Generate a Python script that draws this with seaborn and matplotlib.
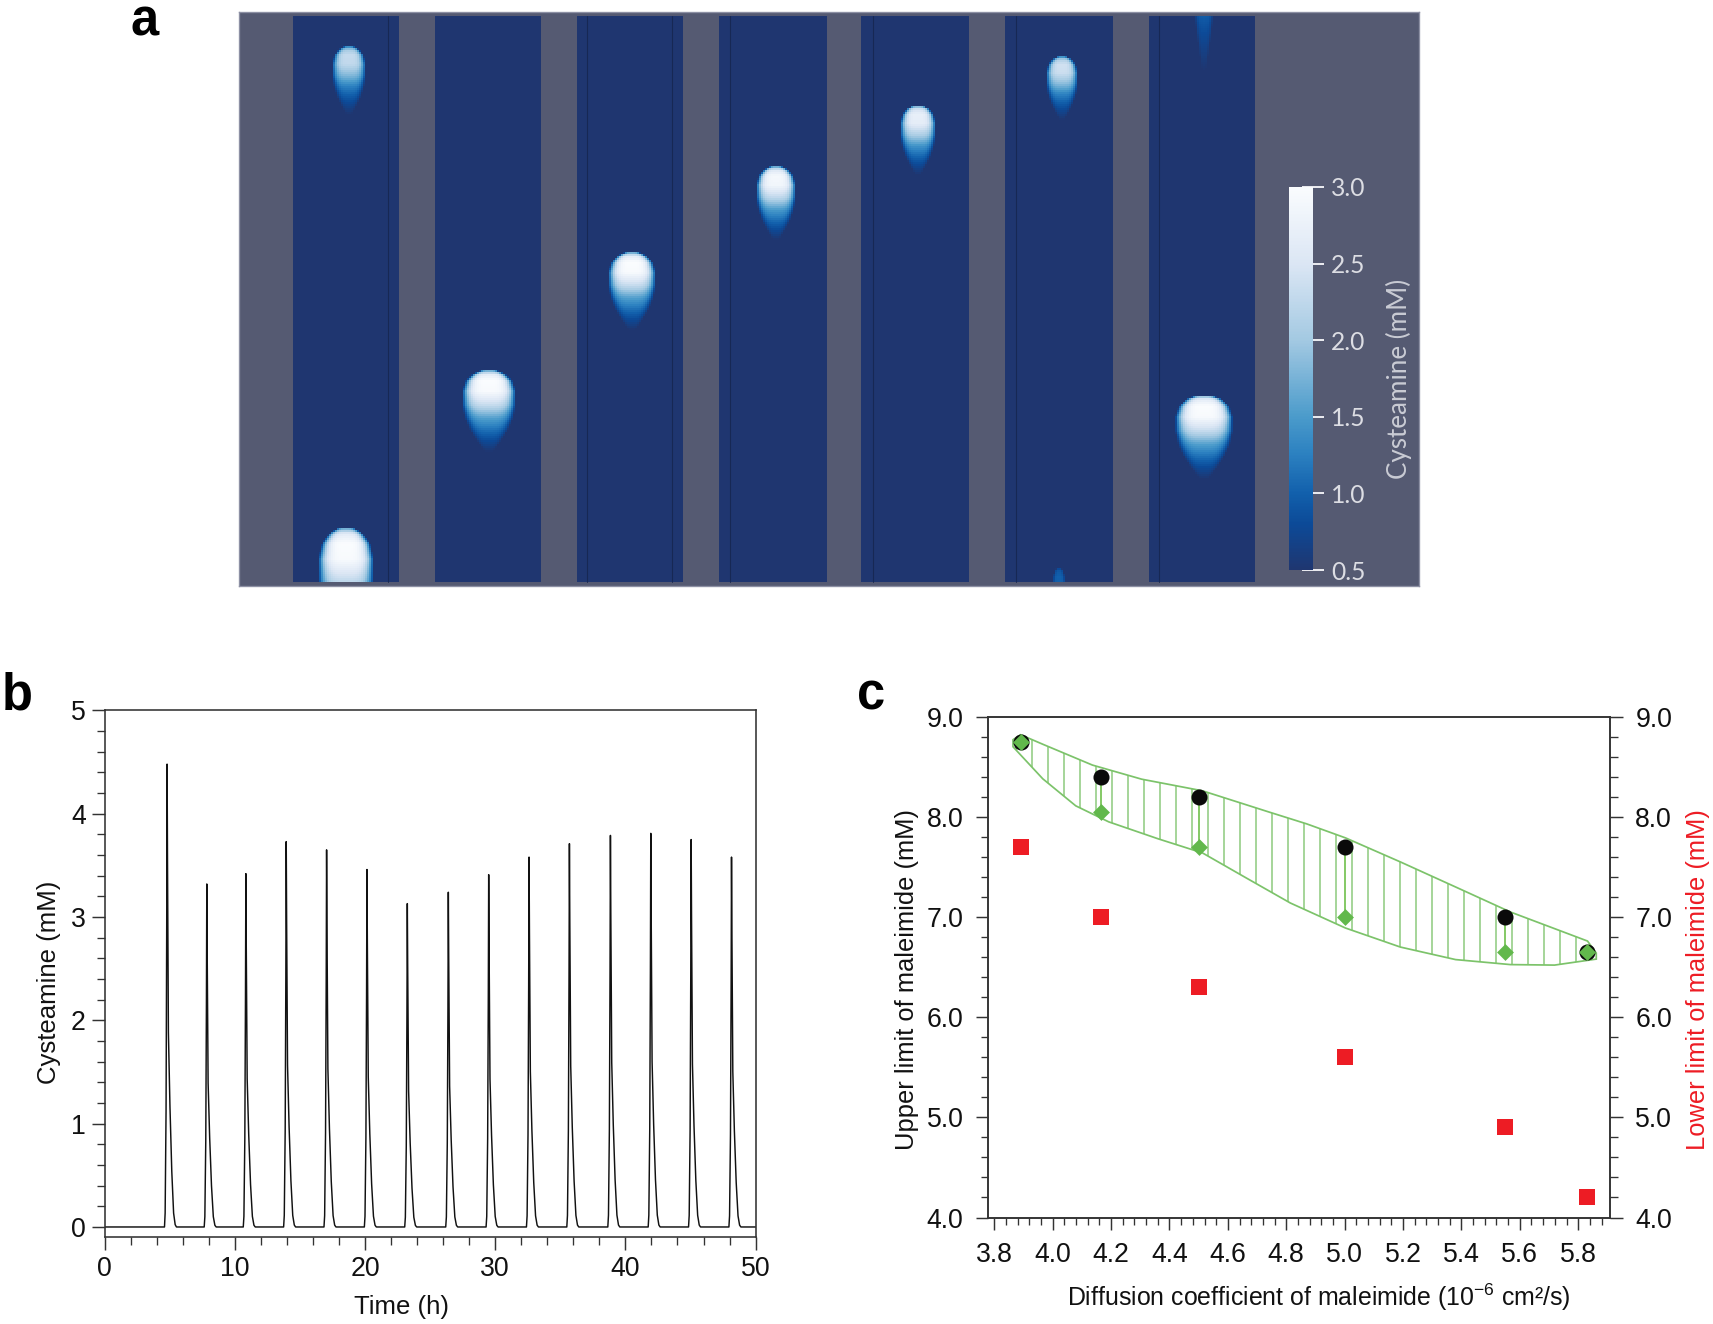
import matplotlib.pyplot as plt
import numpy as np
import pandas as pd
import seaborn as sns
from matplotlib.colors import LinearSegmentedColormap
from matplotlib.ticker import MultipleLocator

WIDTH, HEIGHT, DPI = 1713, 1324, 96

# panel a: channels and drops, in picture pixels
channel_left = [292, 434, 576, 719, 861, 1005, 1148]
channel_right = [400, 542, 684, 827, 970, 1113, 1256]
channel_top, channel_bottom = 16, 582
channel_lines = [388, 587, 672, 730, 873, 1016, 1159]
# x centre, head top, tail end, half width, peak conc
drop_x = [349, 346, 489, 632, 776, 918, 1062, 1059, 1204, 1204]
drop_top = [47, 529, 371, 253, 167, 106, 57, 568, 396, -80]
drop_tail = [115, 650, 452, 330, 240, 175, 120, 640, 479, 72]
drop_halfwidth = [17, 28, 27, 24, 20, 18, 16, 7, 29, 11]
drop_peak = [2.3, 3.0, 3.0, 3.0, 2.9, 2.7, 2.4, 1.0, 3.0, 1.8]
# teardrop profile read along a drop, head to tail
profile_pos = [0, .04, .12, .25, .42, .58, .72, .86, 1]
profile_width = [.35, .62, .87, 1, 1, .9, .72, .45, .15]
profile_level = [.5, .85, 1, .98, .72, .42, .26, .12, 0]
cmap_values = [0.5, 0.8, 1.0, 1.25, 1.5, 2.0, 2.5, 3.0]
cmap_colors = ['#1f3670', '#0c4a98', '#1260ac', '#2b80c0', '#4b9bcb', '#a3c9e2', '#dbe6f4', '#fafcfe']
cbar_ticks = [0.5, 1.0, 1.5, 2.0, 2.5, 3.0]

# panel b
peak_times = [4.8, 7.85, 10.85, 13.95, 17.05, 20.15, 23.25, 26.4, 29.5, 32.6, 35.7, 38.85, 41.95, 45.05, 48.15]
peak_values = [4.48, 3.32, 3.42, 3.73, 3.65, 3.46, 3.13, 3.24, 3.41, 3.58, 3.71, 3.79, 3.81, 3.75, 3.58]
pulse_dt = [-0.2, -0.15, -0.08, -0.03, 0, 0.03, 0.1, 0.22, 0.36, 0.5, 0.62, 0.72]
pulse_frac = [0, 0.03, 0.25, 0.65, 1, 0.8, 0.42, 0.26, 0.12, 0.03, 0.005, 0]

# panel c
diffusion = [3.89, 4.165, 4.5, 5.0, 5.55, 5.83]
upper_limit = [8.75, 8.4, 8.2, 7.7, 7.0, 6.65]
lower_limit = [7.7, 7.0, 6.3, 5.6, 4.9, 4.2]
model_limit = [8.75, 8.05, 7.7, 7.0, 6.65, 6.65]
band_upper_x = [3.864, 3.89, 3.966, 4.136, 4.305, 4.513, 4.739, 4.87, 5.003, 5.191, 5.38, 5.568, 5.832, 5.862]
band_upper_y = [8.77, 8.82, 8.725, 8.517, 8.376, 8.26, 8.05, 7.93, 7.79, 7.55, 7.30, 7.05, 6.76, 6.64]
band_lower_x = [3.864, 3.966, 4.079, 4.192, 4.362, 4.513, 4.663, 4.814, 5.003, 5.191, 5.38, 5.568, 5.719, 5.862]
band_lower_y = [8.70, 8.38, 8.11, 7.95, 7.78, 7.64, 7.39, 7.14, 6.89, 6.70, 6.575, 6.525, 6.52, 6.58]

GREY = '#555a72'
GREEN = '#7cc36a'
DARK = '#333333'


def px_axes(fig, left, top, right, bottom):
    return fig.add_axes([left / WIDTH, 1 - bottom / HEIGHT, (right - left) / WIDTH, (bottom - top) / HEIGHT])


def fx(x):
    return x / WIDTH


def fy(y):
    return 1 - y / HEIGHT


def build_field(xs, ys):
    xx, yy = np.meshgrid(xs, ys)
    field = np.full(xx.shape, 0.5)
    for cx, top, tail, hw, peak in zip(drop_x, drop_top, drop_tail, drop_halfwidth, drop_peak):
        u = (yy - top) / (tail - top)
        inside = (u >= 0) & (u <= 1)
        width = hw * np.interp(u, profile_pos, profile_width)
        r = np.abs(xx - cx) / width
        edge = np.clip(1 - r**4, 0, 1)
        drop = 0.5 + (peak - 0.5) * np.interp(u, profile_pos, profile_level) * edge
        field = np.where(inside, np.maximum(field, drop), field)
    return field


def draw_panel_a(fig):
    left, top, right, bottom = 239, 12, 1419, 586
    ax = px_axes(fig, left, top, right, bottom)
    ax.set_facecolor(GREY)
    xs = np.arange(left, right, 2) + 1
    ys = np.arange(top, bottom, 2) + 1
    field = build_field(xs, ys)
    mask = np.ones(field.shape, dtype=bool)
    for cl, cr in zip(channel_left, channel_right):
        mask[np.ix_((ys - 1 >= channel_top) & (ys + 1 <= channel_bottom), (xs - 1 >= cl) & (xs + 1 <= cr))] = False

    cmap = LinearSegmentedColormap.from_list(
        'cyst', [((v - 0.5) / 2.5, c) for v, c in zip(cmap_values, cmap_colors)])
    cax = px_axes(fig, 1289, 187, 1313, 570)
    sns.heatmap(ax=ax, data=field, mask=mask, cmap=cmap, vmin=0.5, vmax=3.0, cbar_ax=cax,
                xticklabels=False, yticklabels=False)
    for lx in channel_lines:
        ax.axvline((lx - left) / 2, ymin=(bottom - channel_bottom) / (bottom - top),
                   ymax=(bottom - channel_top) / (bottom - top), color='#16264f', lw=0.8, alpha=0.85)
    for side in ax.spines.values():
        side.set_visible(True)
        side.set_color('#8d90a4')
        side.set_linewidth(1)

    cax.set_yticks(cbar_ticks)
    cax.set_yticklabels([f'{v:.1f}' for v in cbar_ticks], family='Lato', fontsize=18.5, color='#dcdde3')
    cax.tick_params(axis='y', direction='inout', length=17, width=1.5, color='#e8e9ee', pad=5)
    fig.text(fx(1399), fy(379), 'Cysteamine (mM)', rotation=90, ha='center', va='center',
             family='Lato', fontsize=19.5, color='#c9cbd4')


def draw_panel_b(fig):
    ax = px_axes(fig, 104.6, 710.4, 755.6, 1237)
    times = [0.0]
    values = [0.0]
    for t, v in zip(peak_times, peak_values):
        times += [t + dt for dt in pulse_dt]
        values += [v * f for f in pulse_frac]
    times.append(50.0)
    values.append(0.0)
    trace = pd.DataFrame({'time': times, 'conc': values})
    sns.lineplot(ax=ax, data=trace, x='time', y='conc', sort=False, estimator=None, color='#111111', lw=1.1)

    ax.set_xlim(0, 50)
    ax.set_ylim(-0.097, 5)
    ax.set_xticks(range(0, 51, 10))
    ax.set_yticks(range(0, 6))
    ax.xaxis.set_minor_locator(MultipleLocator(2))
    ax.yaxis.set_minor_locator(MultipleLocator(0.2))
    ax.tick_params(which='major', length=10, width=1.1, color=DARK, labelsize=20, labelcolor='#111111', pad=4)
    ax.tick_params(which='minor', length=6, width=1.0, color=DARK)
    for side in ax.spines.values():
        side.set_visible(True)
        side.set_color(DARK)
        side.set_linewidth(1.2)
    ax.set_xlabel('Time (h)', fontsize=19.3, color='#111111')
    ax.set_ylabel('Cysteamine (mM)', fontsize=19.3, color='#111111')
    ax.xaxis.set_label_coords(fx(402), fy(1307), transform=fig.transFigure)
    ax.yaxis.set_label_coords(fx(49), fy(982), transform=fig.transFigure)
    ax.xaxis.label.set_va('center')
    ax.yaxis.label.set_va('center')


def draw_panel_c(fig):
    ax = px_axes(fig, 987.6, 716.7, 1610, 1217.5)
    ax2 = ax.twinx()

    outline_x = band_upper_x + band_lower_x[::-1]
    outline_y = band_upper_y + band_lower_y[::-1]
    ax.fill(outline_x, outline_y, facecolor='none', edgecolor=GREEN, hatch='|', lw=1.3)
    ax.vlines(diffusion[1:5], model_limit[1:5], upper_limit[1:5], color='#6abd45', lw=1.2)

    sns.scatterplot(ax=ax, x=diffusion, y=upper_limit, color='#0a0a0a', marker='o', s=145, linewidth=0, zorder=4)
    sns.scatterplot(ax=ax, x=diffusion, y=model_limit, color='#62b84c', marker='D', s=80, linewidth=0, zorder=5)
    sns.scatterplot(ax=ax2, x=diffusion, y=lower_limit, color='#ed1c24', marker='s', s=160, linewidth=0, zorder=5)

    for a in (ax, ax2):
        a.set_xlim(3.777, 5.909)
        a.set_ylim(4, 9)
        a.set_yticks(range(4, 10))
        a.set_yticklabels([f'{v:.1f}' for v in range(4, 10)])
        a.yaxis.set_minor_locator(MultipleLocator(0.2))
        for side in a.spines.values():
            side.set_visible(True)
            side.set_color(DARK)
            side.set_linewidth(1.2)
    ax.set_xticks(np.arange(3.8, 5.81, 0.2))
    ax.set_xticklabels([f'{v:.1f}' for v in np.arange(3.8, 5.81, 0.2)])
    ax.xaxis.set_minor_locator(MultipleLocator(0.04))
    ax.tick_params(which='major', length=9, width=1.1, color=DARK, labelsize=20, labelcolor='#111111', pad=9)
    ax.tick_params(which='minor', length=5, width=1.0, color=DARK)
    ax2.tick_params(which='major', length=10, width=1.1, color=DARK, labelsize=20, labelcolor='#111111', pad=9)
    ax2.tick_params(which='minor', length=6, width=1.0, color=DARK)

    ax.set_xlabel('Diffusion coefficient of maleimide (10$^{-6}$ cm²/s)', fontsize=18.7, color='#111111')
    ax.set_ylabel('Upper limit of maleimide (mM)', fontsize=19.1, color='#111111')
    ax2.set_ylabel('Lower limit of maleimide (mM)', fontsize=19.1, color='#ed1c24')
    ax.xaxis.set_label_coords(fx(1319), fy(1297), transform=fig.transFigure)
    ax.yaxis.set_label_coords(fx(907), fy(980), transform=fig.transFigure)
    ax2.yaxis.set_label_coords(fx(1698), fy(980), transform=fig.transFigure)
    ax.xaxis.label.set_va('center')
    ax.yaxis.label.set_va('center')
    ax2.yaxis.label.set_va('center')


sns.set_theme(style='ticks')
plt.rcParams['font.family'] = ['Liberation Sans', 'DejaVu Sans']
plt.rcParams['mathtext.default'] = 'regular'
plt.rcParams['hatch.linewidth'] = 1.0

fig = plt.figure(figsize=(WIDTH / DPI, HEIGHT / DPI), dpi=DPI)
draw_panel_a(fig)
draw_panel_b(fig)
draw_panel_c(fig)

for label, x, y in [('a', 131, 36), ('b', 2, 710), ('c', 857, 710)]:
    fig.text(fx(x), fy(y), label, fontsize=38, fontweight='bold', color='black', ha='left', va='baseline')

fig.savefig('out.png', dpi=DPI)
